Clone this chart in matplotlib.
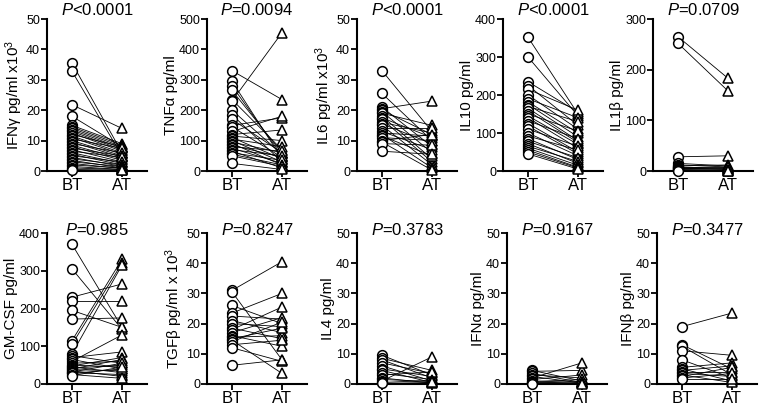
import matplotlib
matplotlib.use("Agg")
import matplotlib.pyplot as plt

plt.rcParams["font.family"] = ["Liberation Sans", "DejaVu Sans"]
plt.rcParams["mathtext.fontset"] = "custom"
plt.rcParams["mathtext.rm"] = "Liberation Sans"
plt.rcParams["mathtext.it"] = "Liberation Sans:italic"

groups = ["BT", "AT"]

# top row
ifng_bt = [35.5, 32.8, 21.8, 18.0, 15.0, 14.5, 14.0, 13.5, 13.0, 12.5, 12.0, 11.5, 11.0, 10.5, 10.0, 9.5, 9.0, 8.5,
           8.0, 7.5, 7.0, 6.5, 6.0, 5.5, 5.0, 4.5, 4.0, 3.5, 3.0, 2.5, 2.0, 1.5, 1.0, 0.5, 0.2]
ifng_at = [6.0, 5.0, 14.0, 8.0, 9.0, 8.5, 8.0, 7.5, 7.0, 6.5, 8.0, 6.0, 5.5, 7.5, 5.0, 4.5, 6.0, 4.0,
           3.5, 5.0, 3.0, 4.5, 2.5, 2.0, 3.0, 1.5, 2.0, 1.0, 1.5, 0.8, 1.0, 0.5, 0.5, 0.3, 0.2]

tnfa_bt = [330, 295, 280, 265, 235, 230, 200, 185, 170, 150, 145, 130, 120, 115, 110, 105, 100, 95, 90, 85,
           80, 75, 70, 65, 60, 55, 50, 25]
tnfa_at = [235, 40, 50, 60, 70, 455, 55, 30, 60, 175, 45, 180, 135, 100, 40, 80, 30, 60, 20, 45,
           65, 25, 50, 10, 35, 20, 15, 5]

il6_bt = [33, 25.5, 21, 20.5, 20, 19.5, 19, 18, 17.5, 17, 16, 15.5, 15, 14, 13, 12.5, 12, 11.5, 11, 10, 9.5, 9, 6.5]
il6_at = [13, 10, 8, 23, 12, 6, 15, 4, 11, 3, 12.5, 9, 2, 14, 7, 11.5, 1, 5, 10, 12, 0.3, 8.5, 5.5]

il10_bt = [352, 300, 235, 225, 215, 200, 190, 182, 175, 170, 165, 158, 150, 145, 140, 132, 125, 118, 110, 100,
           92, 85, 78, 72, 65, 60, 55, 50, 45]
il10_at = [150, 145, 155, 120, 160, 110, 140, 100, 90, 130, 80, 75, 105, 70, 60, 85, 50, 45, 65, 40,
           55, 30, 35, 20, 25, 15, 10, 8, 5]

il1b_bt = [265, 252, 28, 15, 12, 10, 8, 7, 6, 5, 4, 3, 2, 1, 0.5]
il1b_at = [183, 158, 30, 10, 8, 12, 5, 6, 3, 4, 7, 2, 1, 0.5, 0.3]

# bottom row
gmcsf_bt = [370, 305, 230, 220, 195, 172, 115, 105, 80, 75, 70, 65, 60, 55, 50, 48, 45, 42, 40, 38, 35, 32, 30, 28, 25, 22]
gmcsf_at = [150, 145, 265, 220, 150, 175, 330, 320, 315, 55, 85, 40, 130, 60, 45, 70, 30, 50, 65, 35, 20, 55, 25, 40, 15, 45]

tgfb_bt = [31, 30.5, 26, 23.5, 22.5, 21, 20, 18.5, 18, 17, 16, 15.5, 15, 14.5, 14, 13, 12, 6.2]
tgfb_at = [40.5, 8, 20, 30, 21.5, 17, 19, 15, 25.5, 22, 12.5, 16, 18.5, 3.5, 20.5, 14.5, 7.5, 8]

il4_bt = [9.5, 8.5, 8, 7, 6, 5, 4.5, 3.5, 3, 2, 1.5, 1, 0.5, 0.2]
il4_at = [3, 4.5, 2, 3.5, 1, 2.5, 0.5, 1.5, 4, 0.3, 0.8, 9, 1.2, 0.5]

ifna_bt = [4.5, 4.2, 3.5, 3, 2.5, 2, 1.5, 1, 0.8, 0.5, 0.3, 0.1]
ifna_at = [1, 4.5, 0.5, 2, 0.3, 7, 3, 0.5, 1.5, 0.2, 0.8, 0.1]

ifnb_bt = [19, 13, 12.5, 11, 8, 5.5, 5, 4.5, 4, 3.5, 3, 2.5, 2, 1.5]
ifnb_at = [23.5, 5, 3, 9.5, 2, 7, 1, 6, 4, 2.5, 0.5, 5.5, 3.5, 1.5]

panels = [
    (ifng_bt, ifng_at, "IFNγ pg/ml x10$^3$", r"$P$<0.0001", 50, 10),
    (tnfa_bt, tnfa_at, "TNFα pg/ml", r"$P$=0.0094", 500, 100),
    (il6_bt, il6_at, "IL6 pg/ml x10$^3$", r"$P$<0.0001", 50, 10),
    (il10_bt, il10_at, "IL10 pg/ml", r"$P$<0.0001", 400, 100),
    (il1b_bt, il1b_at, "IL1β pg/ml", r"$P$=0.0709", 300, 100),
    (gmcsf_bt, gmcsf_at, "GM-CSF pg/ml", r"$P$=0.985", 400, 100),
    (tgfb_bt, tgfb_at, "TGFβ pg/ml x 10$^3$", r"$P$=0.8247", 50, 10),
    (il4_bt, il4_at, "IL4 pg/ml", r"$P$=0.3783", 50, 10),
    (ifna_bt, ifna_at, "IFNα pg/ml", r"$P$=0.9167", 50, 10),
    (ifnb_bt, ifnb_at, "IFNβ pg/ml", r"$P$=0.3477", 50, 10),
]

W, H = 760, 408
fig = plt.figure(figsize=(7.6, 4.08), dpi=100)

lefts_top = [47, 207, 357, 503, 653]
lefts_bot = [47, 207, 357, 507, 657]

for i, (bt, at, ylabel, ptxt, ymax, step) in enumerate(panels):
    row = i // 5
    if row == 0:
        left, bottom, height = lefts_top[i], 171, 152
        ty = 1.026
    else:
        left, bottom, height = lefts_bot[i - 5], 384, 151
        ty = 0.985
    ax = fig.add_axes([left / W, 1 - bottom / H, 100 / W, height / H])

    # lines between paired samples
    for b, a in zip(bt, at):
        ax.plot([0, 1], [b, a], color="black", lw=0.6, zorder=2, clip_on=False)
    ax.plot([0] * len(bt), bt, "o", ms=7, mfc="white", mec="black", mew=1.1, ls="none", zorder=3, clip_on=False)
    ax.plot([1] * len(at), at, "^", ms=7, mfc="white", mec="black", mew=1.1, ls="none", zorder=3, clip_on=False)

    ax.set_xlim(-0.5, 1.5)
    ax.set_ylim(0, ymax)
    ax.set_yticks(range(0, ymax + 1, step))
    ax.set_xticks([0, 1])
    ax.set_xticklabels(groups, fontsize=12)
    ax.tick_params(axis="y", labelsize=9, width=1.3, length=4, pad=1)
    ax.tick_params(axis="x", width=1.3, length=4, pad=1)
    for s in ["top", "right"]:
        ax.spines[s].set_visible(False)
    for s in ["left", "bottom"]:
        ax.spines[s].set_linewidth(1.5)
    ax.set_ylabel(ylabel, fontsize=11, labelpad=1)
    ax.text(0.5, ty, ptxt, transform=ax.transAxes, ha="center", va="baseline", fontsize=12)

fig.savefig("out.png", dpi=100)
